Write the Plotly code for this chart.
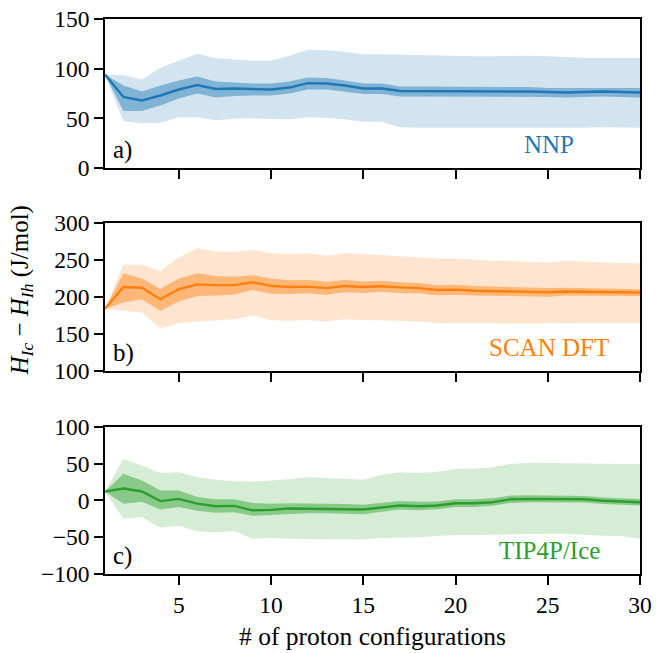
import plotly.graph_objects as go
from plotly.subplots import make_subplots

# Number of proton configurations sampled
n_configs = list(range(1, 31))

# NNP: running mean with inner / outer uncertainty bands (J/mol)
nnp_mean = [94, 71.5, 68, 73, 79, 83.5, 79.5, 80, 79.5, 79, 81, 85.5, 85, 83, 80,
            80, 77.5, 77.5, 77.5, 77, 77, 77, 77, 77, 76.5, 76, 76.5, 77, 76.5, 76]
nnp_inner_hi = [94, 83, 77, 83, 88, 92, 87, 86, 85, 85, 87, 91, 90.5, 88, 85,
                85, 82, 82, 82, 81.5, 81.5, 81.5, 81.5, 81.5, 80.5, 80.5, 81, 81, 81, 80.5]
nnp_inner_lo = [94, 57.5, 57.5, 63, 70, 75, 71, 72.5, 73, 73, 75, 79, 79, 77, 74.5,
                74.5, 72, 72, 72, 72, 72, 72, 72, 72, 71.5, 71, 71.5, 72, 71.5, 71]
nnp_outer_hi = [94, 93.5, 89, 101, 108, 115, 110.5, 109.5, 108, 108, 113, 119, 118.5, 117, 114.5,
                114.5, 114, 114, 113.5, 113, 112.5, 112.5, 113, 113, 112.5, 111.5, 111, 111, 111, 111]
nnp_outer_lo = [94, 47, 45, 45.5, 51, 51, 48, 49.5, 50, 49.5, 49, 51, 50.5, 49, 46.5,
                46.5, 41, 40.5, 40.5, 40.5, 40.5, 40, 40, 40.5, 40.5, 40, 40.5, 41, 40.5, 40.5]

# SCAN DFT
scan_mean = [184, 213.5, 212.5, 197, 210.5, 217, 216, 216, 220, 215, 213.5, 214, 212, 215, 213.5,
             214.5, 213, 212, 209.5, 210, 208.5, 208, 207, 207, 206.5, 207.5, 207, 207, 206.5, 206]
scan_inner_hi = [184, 232, 225, 211, 225, 232, 228.5, 227.5, 229.5, 225, 222.5, 223, 220.5, 223, 221,
                 222, 220, 219, 216, 216.5, 215, 214, 213, 212.5, 212, 212.5, 212, 212, 211.5, 210.5]
scan_inner_lo = [184, 192.5, 197, 181, 194, 201.5, 202, 203.5, 209.5, 204.5, 204, 205, 203, 206.5, 205.5,
                 207, 205.5, 205, 202.5, 203, 202, 201.5, 201, 201, 200.5, 202, 202, 202, 201.5, 201.5]
scan_outer_hi = [184, 243.5, 243.5, 235, 253.5, 266, 261.5, 261, 263.5, 259, 258, 259, 256, 259, 258,
                 256.5, 255.5, 253.5, 252, 252, 250, 249, 248.5, 247.5, 246.5, 249, 247.5, 246.5, 246, 245.5]
scan_outer_lo = [184, 182, 179, 157.5, 165, 167, 169, 170, 175, 168.5, 168, 169, 167, 170, 169,
                 169, 168, 167, 164.5, 165, 164.5, 164, 164, 164, 164.5, 165, 165, 165, 165, 165]

# TIP4P/Ice
tip_mean = [12, 16, 12, -1, 2, -4.5, -8, -7.5, -13.5, -13, -11, -11, -11, -12, -12.5,
            -9.5, -7, -8, -7, -4, -4, -2.5, 1.5, 2, 1.5, 2, 1.5, -0.5, -1, -2.5]
tip_inner_hi = [12, 36, 27, 13.5, 13.5, 4.5, 1.5, 1.5, -3.5, -4.5, -4, -4, -4, -5, -6,
                -3.5, -1, -2, -1.5, 1.5, 1.5, 3, 6.5, 7, 6.5, 6.5, 6, 4, 3, 2]
tip_inner_lo = [12, -4.5, -2, -12.5, -9, -14, -17, -16, -21, -20, -18, -17.5, -17.5, -18.5, -19,
                -15.5, -12.5, -13.5, -12, -9, -9, -7.5, -3.5, -2.5, -3, -2.5, -3, -5, -5.5, -7]
tip_outer_hi = [12, 56, 47, 37, 38, 31.5, 28, 26, 25.5, 27, 28.5, 31.5, 30, 29, 28,
                34.5, 38, 37, 39, 42.5, 43, 45, 49.5, 51, 50.5, 51, 50.5, 49.5, 49.5, 49]
tip_outer_lo = [12, -25, -22.5, -37, -34.5, -42, -43.5, -41.5, -52, -51, -52, -52, -52, -52, -53,
                -51, -51, -50, -48.5, -47, -47, -46.5, -45.5, -45, -45.5, -45.5, -47, -48, -48.5, -52.5]

panels = [
    ("a)", "NNP", (31, 119, 180), nnp_mean, nnp_inner_lo, nnp_inner_hi, nnp_outer_lo, nnp_outer_hi,
     [0, 150], [0, 50, 100, 150]),
    ("b)", "SCAN DFT", (255, 127, 14), scan_mean, scan_inner_lo, scan_inner_hi, scan_outer_lo, scan_outer_hi,
     [100, 300], [100, 150, 200, 250, 300]),
    ("c)", "TIP4P/Ice", (44, 160, 44), tip_mean, tip_inner_lo, tip_inner_hi, tip_outer_lo, tip_outer_hi,
     [-100, 100], [-100, -50, 0, 50, 100]),
]

FONT = "Liberation Serif"
fig = make_subplots(rows=3, cols=1)
domains = [[0.7315, 1.0], [0.3658, 0.6324], [0.0, 0.2654]]

for i, (tag, name, rgb, mean, ilo, ihi, olo, ohi, yr, yt) in enumerate(panels):
    row = i + 1
    r, g, b = rgb
    col = f"rgb({r},{g},{b})"
    for lo, hi, alpha in [(olo, ohi, 0.2), (ilo, ihi, 0.45)]:
        fig.add_trace(go.Scatter(x=n_configs, y=hi, mode="lines", line=dict(width=0),
                                 showlegend=False, hoverinfo="skip"), row=row, col=1)
        fig.add_trace(go.Scatter(x=n_configs, y=lo, mode="lines", line=dict(width=0),
                                 fill="tonexty", fillcolor=f"rgba({r},{g},{b},{alpha})",
                                 showlegend=False, hoverinfo="skip"), row=row, col=1)
    fig.add_trace(go.Scatter(x=n_configs, y=mean, mode="lines", line=dict(color=col, width=2.4),
                             showlegend=False), row=row, col=1)

    axis_common = dict(showline=True, linecolor="black", linewidth=1.6, mirror=True,
                       ticks="outside", ticklen=9, tickwidth=1.6, tickcolor="black",
                       showgrid=False, zeroline=False, ticklabeloverflow="allow",
                       tickfont=dict(family=FONT, size=23.5, color="black"))
    fig.update_xaxes(range=[1, 30], tickvals=[5, 10, 15, 20, 25, 30],
                     showticklabels=(row == 3), row=row, col=1, **axis_common)
    fig.update_yaxes(range=yr, tickvals=yt, domain=domains[i], row=row, col=1, **axis_common)

    suffix = "" if row == 1 else str(row)
    fig.add_annotation(text=tag, xref=f"x{suffix} domain", yref=f"y{suffix} domain",
                       x=0.012, y=0.12, xanchor="left", yanchor="middle", showarrow=False,
                       font=dict(family=FONT, size=25, color="black"))
    fig.add_annotation(text=name, xref=f"x{suffix} domain", yref=f"y{suffix} domain",
                       x=0.83, y=0.16, xanchor="center", yanchor="middle", showarrow=False,
                       font=dict(family=FONT, size=25, color=col))

fig.update_xaxes(title=dict(text="# of proton configurations",
                            font=dict(family=FONT, size=25.5, color="black"), standoff=10),
                 row=3, col=1)

fig.add_annotation(text="<i>H</i><sub><i>Ic</i></sub> \u2212 <i>H</i><sub><i>Ih</i></sub> (J/mol)",
                   xref="paper", yref="paper", x=-0.156, y=0.51, textangle=-90,
                   xanchor="center", yanchor="middle", showarrow=False,
                   font=dict(family=FONT, size=25, color="black"))

fig.update_layout(width=656, height=653, margin=dict(l=105, r=4, t=19, b=79),
                  plot_bgcolor="white", paper_bgcolor="white",
                  font=dict(family=FONT, color="black"))

fig.write_html("out.html")
